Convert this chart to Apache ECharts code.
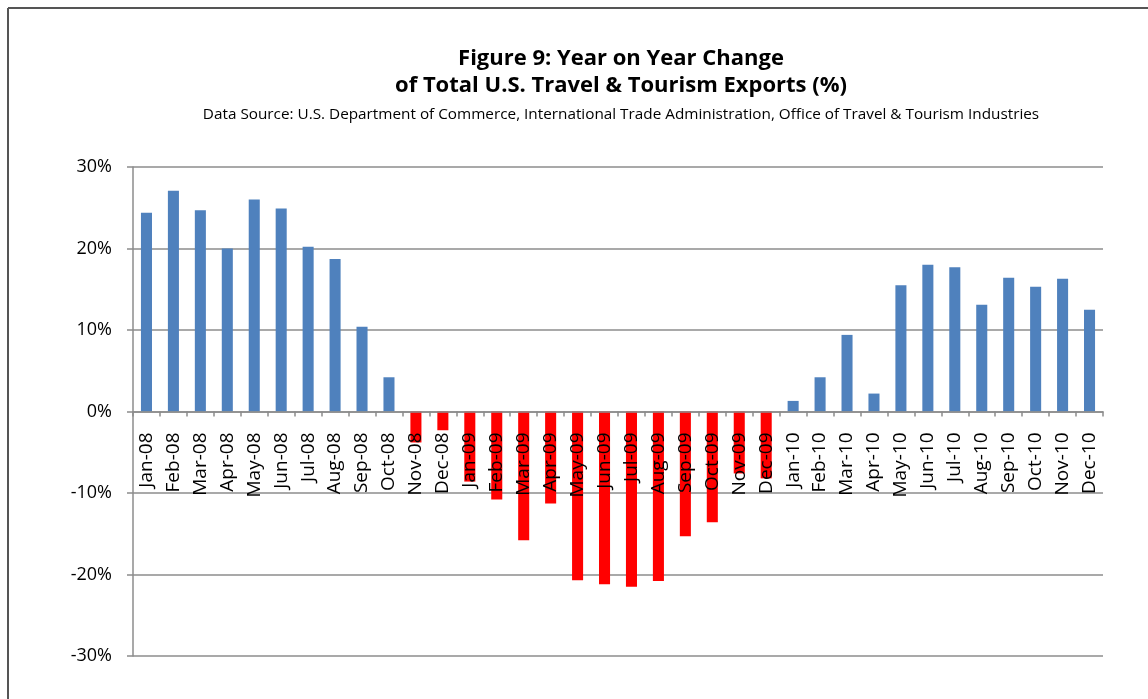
<!DOCTYPE html>
<html>
<head>
<meta charset="utf-8">
<script src="https://cdn.jsdelivr.net/npm/echarts@6/dist/echarts.min.js"></script>
<style>html,body{margin:0;padding:0;background:#fff;}#c{width:1148px;height:699px;}</style>
</head>
<body>
<div id="c"></div>
<script>
const months = ['Jan-08','Feb-08','Mar-08','Apr-08','May-08','Jun-08','Jul-08','Aug-08','Sep-08','Oct-08','Nov-08','Dec-08',
'Jan-09','Feb-09','Mar-09','Apr-09','May-09','Jun-09','Jul-09','Aug-09','Sep-09','Oct-09','Nov-09','Dec-09',
'Jan-10','Feb-10','Mar-10','Apr-10','May-10','Jun-10','Jul-10','Aug-10','Sep-10','Oct-10','Nov-10','Dec-10'];
const yoyChange = [24.4, 27.1, 24.7, 20.0, 26.0, 24.9, 20.2, 18.7, 10.4, 4.2, -3.8, -2.3,
-8.6, -10.8, -15.8, -11.3, -20.7, -21.2, -21.5, -20.8, -15.3, -13.6, -7.6, -8.2,
1.3, 4.2, 9.4, 2.2, 15.5, 18.0, 17.7, 13.1, 16.4, 15.3, 16.3, 12.5];
const yTicks = {min: -30, max: 30, interval: 10};
const titleText = 'Figure 9: Year on Year Change\nof Total U.S. Travel & Tourism Exports (%)';
const subText = 'Data Source: U.S. Department of Commerce, International Trade Administration, Office of Travel & Tourism Industries';

const gridTop = 167, gridBottom = 43, chartH = 699;
const plotH = chartH - gridTop - gridBottom;
// distance from bottom of the grid to the zero line
const zeroOffset = plotH * (0 - yTicks.min) / (yTicks.max - yTicks.min);

const chart = echarts.init(document.getElementById('c'), null, {renderer: 'canvas'});
const fontFam = '"Open Sans", "DejaVu Sans", sans-serif';
chart.setOption({
  backgroundColor: '#fff',
  animation: false,
  title: [
    {text: titleText, left: 616, top: 40, textAlign: 'center',
     textStyle: {fontFamily: fontFam, fontWeight: 'bold', fontSize: 22, lineHeight: 27, color: '#000'}},
    {text: subText, left: 616, top: 100, textAlign: 'center',
     textStyle: {fontFamily: fontFam, fontWeight: 'normal', fontSize: 15.3, lineHeight: 19, color: '#000'}}
  ],
  graphic: [
    {type: 'line', shape: {x1: 8, y1: 8, x2: 1148, y2: 8}, style: {stroke: '#555', lineWidth: 2}},
    {type: 'line', shape: {x1: 8, y1: 8, x2: 8, y2: 699}, style: {stroke: '#555', lineWidth: 2}}
  ],
  grid: {left: 133, right: 45, top: gridTop, bottom: gridBottom, containLabel: false},
  xAxis: {
    type: 'category', data: months, z: 3, offset: -zeroOffset,
    axisLine: {onZero: false, lineStyle: {color: '#8c8c8c', width: 1.5}},
    axisTick: {show: true, interval: 0, alignWithLabel: false, length: 5, lineStyle: {color: '#8c8c8c', width: 1.5}},
    axisLabel: {interval: 0, rotate: 90, margin: 21, fontFamily: fontFam, fontSize: 19, color: '#000'},
    splitLine: {show: false}
  },
  yAxis: {
    type: 'value', min: yTicks.min, max: yTicks.max, interval: yTicks.interval,
    axisLine: {show: true, lineStyle: {color: '#8c8c8c', width: 1.5}},
    axisTick: {show: true, length: 6, lineStyle: {color: '#8c8c8c', width: 1.5}},
    axisLabel: {formatter: '{value}%', margin: 21, fontFamily: fontFam, fontSize: 18, color: '#000'},
    splitLine: {show: true, lineStyle: {color: '#8c8c8c', width: 1.5}}
  },
  series: [{
    type: 'bar', data: yoyChange, barCategoryGap: '59%',
    itemStyle: {color: p => p.value < 0 ? '#FF0000' : '#4F81BD'}
  }]
});
</script>
</body>
</html>
